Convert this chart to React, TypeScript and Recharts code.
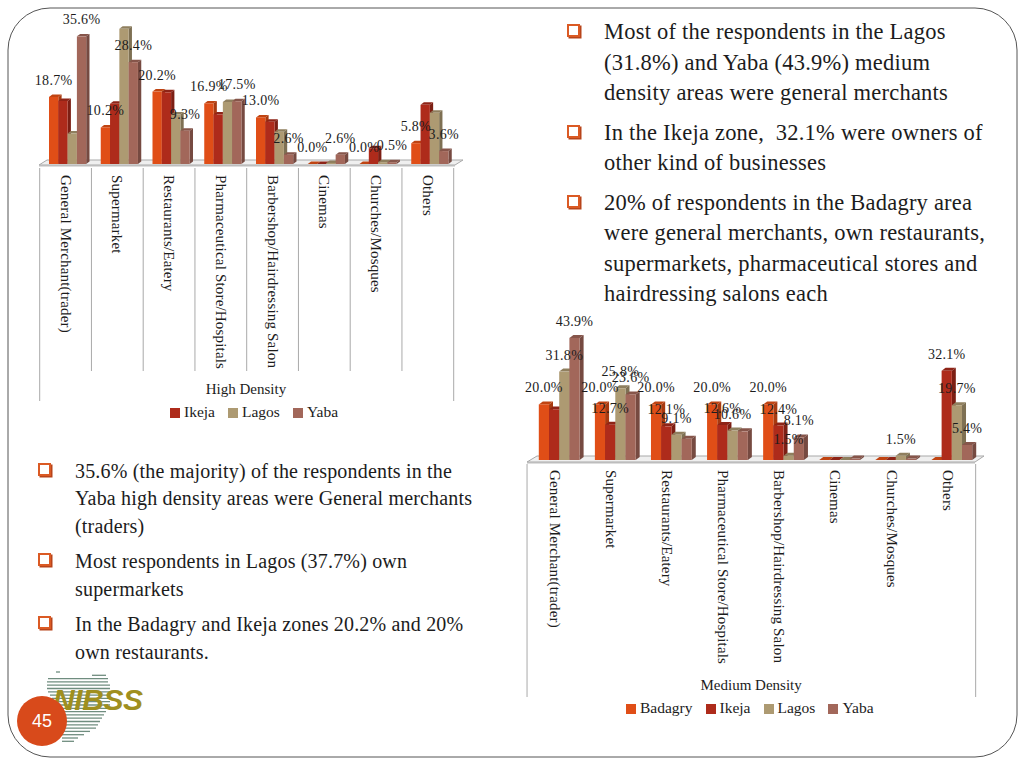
import React from 'react';
import { BarChart, Bar, XAxis, YAxis, Legend, LabelList } from 'recharts';

const categories = [
  'General Merchant(trader)',
  'Supermarket',
  'Restaurants/Eatery',
  'Pharmaceutical Store/Hospitals',
  'Barbershop/Hairdressing Salon',
  'Cinemas',
  'Churches/Mosques',
  'Others',
];

// High density
const highBadagry = [18.7, 10.2, 20.2, 16.9, 13.0, 0, 0, 5.8];
const highIkeja = [17.6, 16.8, 20.0, 13.8, 11.8, 0, 4.4, 16.5];
const highLagos = [8.5, 37.7, 13.8, 17.3, 9.0, 0.3, 0.5, 14.3];
const highYaba = [35.6, 28.4, 9.3, 17.5, 2.6, 2.6, 0.5, 3.6];

// Medium density
const medBadagry = [20.0, 20.0, 20.0, 20.0, 20.0, 0, 0, 0];
const medIkeja = [18.2, 12.7, 12.1, 12.6, 12.4, 0, 0, 32.1];
const medLagos = [31.8, 25.8, 9.1, 10.6, 1.5, 0, 1.5, 19.7];
const medYaba = [43.9, 23.6, 7.6, 10.3, 8.1, 0.5, 0.5, 5.4];

// which bars carry a printed label in the medium chart
const medIkejaLabels = [null, '12.7%', '12.1%', '12.6%', '12.4%', null, null, '32.1%'];
const medLagosLabels = ['31.8%', '25.8%', '9.1%', '10.6%', '1.5%', null, '1.5%', '19.7%'];
const medYabaLabels = ['43.9%', '23.6%', null, null, '8.1%', null, null, '5.4%'];
const medBadagryLabels = ['20.0%', '20.0%', '20.0%', '20.0%', '20.0%', null, null, null];

const pct = (v: number) => `${v.toFixed(1)}%`;

const highData = categories.map((name, i) => ({
  name,
  Badagry: highBadagry[i],
  Ikeja: highIkeja[i],
  Lagos: highLagos[i],
  Yaba: highYaba[i],
  badagryLabel: pct(highBadagry[i]),
  yabaLabel: pct(highYaba[i]),
}));

const medData = categories.map((name, i) => ({
  name,
  Badagry: medBadagry[i],
  Ikeja: medIkeja[i],
  Lagos: medLagos[i],
  Yaba: medYaba[i],
  badagryLabel: medBadagryLabels[i],
  ikejaLabel: medIkejaLabels[i],
  lagosLabel: medLagosLabels[i],
  yabaLabel: medYabaLabels[i],
}));

const COLORS: Record<string, string[]> = {
  Badagry: ['#E04E17', '#A83A10', '#C04412'],
  Ikeja: ['#AE2B1B', '#7C1F14', '#8E2417'],
  Lagos: ['#AD9A72', '#7E7053', '#8F7F5E'],
  Yaba: ['#A2675A', '#764A41', '#86554A'],
};

const SERIF = '"Liberation Serif", serif';
const INK = '#1c1c1c';

const bar3d = (series: string, depth: number) => (props: any) => {
  const { x, y, width, height } = props;
  const [front, side, top] = COLORS[series];
  const rise = depth * 0.75;
  return (
    <g>
      <polygon
        points={`${x},${y} ${x + depth},${y - rise} ${x + width + depth},${y - rise} ${x + width},${y}`}
        fill={top}
      />
      <polygon
        points={`${x + width},${y} ${x + width + depth},${y - rise} ${x + width + depth},${y + height - rise} ${x + width},${y + height}`}
        fill={side}
      />
      <rect x={x} y={y} width={width} height={height} fill={front} />
    </g>
  );
};

const categoryTick = (band: number, shift: number, shortTo: number | null, longTo: number, top: number) => (props: any) => {
  const { x, y, index, payload } = props;
  const left = x - band / 2 - shift;
  return (
    <g>
      <line x1={left} x2={left} y1={y - 4} y2={index === 0 || shortTo === null ? longTo : shortTo} stroke="#a9a9a9" opacity={index === 0 || shortTo !== null ? 1 : 0} />
      {index === 7 && (
        <line x1={left + band} x2={left + band} y1={y - 4} y2={longTo} stroke="#a9a9a9" />
      )}
      <text
        transform={`translate(${x - shift - 5},${top}) rotate(90)`}
        fontFamily={SERIF}
        fontSize={15}
        letterSpacing={0.18}
        fill={INK}
      >
        {payload.value}
      </text>
    </g>
  );
};

const labelStyle = { fontFamily: SERIF, fontSize: 14, letterSpacing: 0.3, fill: INK };

const ChartPanel = ({ data, left, top, width, height, marginLeft, marginRight, marginTop, domainMax, axisHeight, barSize, depth, labels, tick, title, titleOffset, titleShift, legendLeft, legendTop, hideBadagry }: any) => (
  <div style={{ position: 'absolute', left, top }}>
    <BarChart
      width={width}
      height={height}
      data={data}
      margin={{ top: marginTop, right: marginRight, left: marginLeft, bottom: 0 }}
      barGap={0}
      barSize={barSize}
    >
      <XAxis
        dataKey="name"
        axisLine={false}
        tickLine={false}
        height={axisHeight}
        interval={0}
        tick={tick}
        label={{ value: title, position: 'insideBottom', offset: titleOffset, dx: titleShift, style: { fontFamily: SERIF, fontSize: 15, fill: INK } }}
      />
      <YAxis hide domain={[0, domainMax]} />
      <Legend
        iconType="square"
        iconSize={10}
        wrapperStyle={{ position: 'absolute', left: legendLeft, top: legendTop, width: 'auto', fontFamily: SERIF, fontSize: 15.5 }}
        formatter={(value: string) => <span style={{ color: INK, marginRight: 3 }}>{value}</span>}
      />
      {['Badagry', 'Ikeja', 'Lagos', 'Yaba'].map((s) => (
        <Bar
          key={s}
          dataKey={s}
          fill={COLORS[s][0]}
          legendType={hideBadagry && s === 'Badagry' ? 'none' : 'square'}
          shape={bar3d(s, depth)}
          isAnimationActive={false}
        >
          {labels[s] && <LabelList dataKey={labels[s]} position="top" offset={12} style={labelStyle} />}
        </Bar>
      ))}
    </BarChart>
  </div>
);

const rightText = [
  { y: 32, bullet: true, t: 'Most of the respondents in the Lagos' },
  { y: 63, t: '(31.8%) and Yaba (43.9%) medium' },
  { y: 93, t: 'density areas were general merchants' },
  { y: 133, bullet: true, t: 'In the Ikeja zone,  32.1% were owners of' },
  { y: 163, t: 'other kind of businesses' },
  { y: 203, bullet: true, t: '20% of respondents in the Badagry area' },
  { y: 233, t: 'were general merchants, own restaurants,' },
  { y: 264, t: 'supermarkets, pharmaceutical stores and' },
  { y: 294, t: 'hairdressing salons each' },
];

const leftText = [
  { y: 471, bullet: true, t: '35.6% (the majority) of the respondents in the' },
  { y: 498, t: 'Yaba high density areas were General merchants' },
  { y: 526, t: '(traders)' },
  { y: 561, bullet: true, t: 'Most respondents in Lagos (37.7%) own' },
  { y: 589, t: 'supermarkets' },
  { y: 624, bullet: true, t: 'In the Badagry and Ikeja zones 20.2% and 20%' },
  { y: 652, t: 'own restaurants.' },
];

const TextBlock = ({ lines, x, bulletX, size, spacing }: any) => (
  <>
    {lines.map((l: any) => (
      <React.Fragment key={l.t}>
        {l.bullet && (
          <div
            style={{
              position: 'absolute',
              left: bulletX,
              top: l.y - 8,
              width: 9,
              height: 9,
              border: '2px solid #DB5A24',
              boxShadow: '1.5px 1.5px 0 #B8441A',
              background: '#fff',
            }}
          />
        )}
        <div
          style={{
            position: 'absolute',
            left: x,
            top: l.y - size * 0.62,
            fontFamily: SERIF,
            fontSize: size,
            lineHeight: `${size * 1.2}px`,
            letterSpacing: spacing,
            color: INK,
            whiteSpace: 'pre',
          }}
        >
          {l.t}
        </div>
      </React.Fragment>
    ))}
  </>
);

const stripes = [
  [56, 60], [92, 106], [48, 108], [47, 108], [47, 110], [47, 110], [48, 110], [50, 110],
  [52, 110], [54, 110], [56, 110], [58, 108], [60, 106], [60, 104], [62, 102], [62, 100],
  [62, 98], [62, 96], [62, 90], [62, 84], [62, 78], [62, 74],
];

const Backdrop = () => (
  <svg width={1024} height={768} style={{ position: 'absolute', left: 0, top: 0 }}>
    <rect x={8} y={8} width={1009} height={749} rx={42} ry={42} fill="#fff" stroke="#555" strokeWidth={1} />
    <polygon points="39,165 47,160 463,160 455,165" fill="#efefef" stroke="#a9a9a9" />
    <rect x={39} y={165} width={416} height={1.5} fill="#bdbdbd" />
    <polygon points="527,462 537,456 984,456 975,462" fill="#efefef" stroke="#a9a9a9" />
    <rect x={527} y={462} width={448} height={1.5} fill="#bdbdbd" />
    {stripes.map(([a, b], i) => (
      <line key={i} x1={a} x2={b} y1={672 + i * 3.3} y2={672 + i * 3.3} stroke="#6f8d7f" strokeWidth={1.3} />
    ))}
    <text x={53} y={710} fontFamily='"Liberation Sans", sans-serif' fontSize={30} fontWeight={700} fontStyle="italic" fill="#A08F1E" textLength={90}>
      NIBSS
    </text>
  </svg>
);

export default function App() {
  return (
    <div style={{ position: 'absolute', left: 0, top: 0, width: 1024, height: 768, background: '#fff', overflow: 'hidden' }}>
      <Backdrop />
      <ChartPanel
        data={highData}
        left={0}
        top={0}
        width={480}
        height={425}
        marginLeft={42}
        marginRight={24}
        marginTop={20.6}
        domainMax={40}
        axisHeight={243}
        barSize={9.3}
        depth={3.3}
        labels={{ Badagry: 'badagryLabel', Yaba: 'yabaLabel' }}
        tick={categoryTick(51.75, 2.3, 371, 401, 175)}
        title="High Density"
        titleOffset={13}
        titleShift={-3}
        legendLeft={170}
        legendTop={403}
        hideBadagry
      />
      <ChartPanel
        data={medData}
        left={500}
        top={300}
        width={520}
        height={425}
        marginLeft={30.8}
        marginRight={40.5}
        marginTop={21}
        domainMax={50}
        axisHeight={247}
        barSize={10.2}
        depth={4}
        labels={{ Badagry: 'badagryLabel', Ikeja: 'ikejaLabel', Lagos: 'lagosLabel', Yaba: 'yabaLabel' }}
        tick={categoryTick(56, 3.8, null, 397, 170)}
        title="Medium Density"
        titleOffset={17}
        titleShift={-4}
        legendLeft={126}
        legendTop={399}
      />
      <TextBlock lines={rightText} x={604} bulletX={567} size={22.5} spacing={0.22} />
      <TextBlock lines={leftText} x={75} bulletX={38} size={20} spacing={0.18} />
      <div
        style={{
          position: 'absolute',
          left: 17,
          top: 696,
          width: 50,
          height: 50,
          borderRadius: '50%',
          background: '#D84A1B',
          color: '#fff',
          fontFamily: '"Liberation Sans", sans-serif',
          fontSize: 18,
          textAlign: 'center',
          lineHeight: '50px',
        }}
      >
        45
      </div>
    </div>
  );
}
